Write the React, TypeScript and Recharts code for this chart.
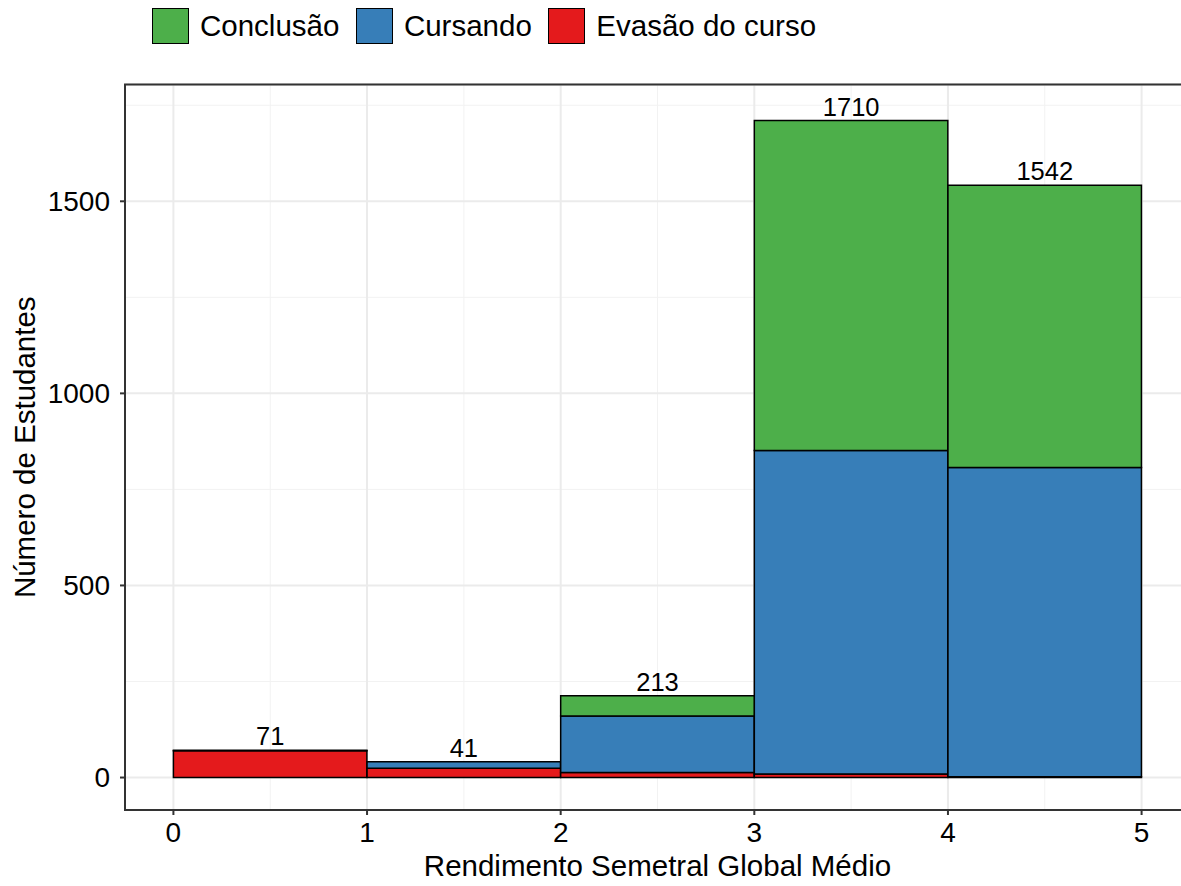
import {
  ComposedChart,
  Bar,
  Line,
  XAxis,
  YAxis,
  CartesianGrid,
  LabelList,
  ReferenceArea,
} from "recharts";

// classes do histograma (centro de cada faixa de rendimento)
const binCenters = [0.5, 1.5, 2.5, 3.5, 4.5];
const evasao = [70, 24, 13, 9, 2];
const cursando = [1, 17, 147, 842, 805];
const conclusao = [0, 0, 53, 859, 735];

const xTicks = [0, 1, 2, 3, 4, 5];
const yTicks = [0, 500, 1000, 1500];
const xMinor = [0.5, 1.5, 2.5, 3.5, 4.5];
const yMinor = [250, 750, 1250, 1750];

const legendItems = [
  { label: "Conclusão", color: "#4DAF4A" },
  { label: "Cursando", color: "#377EB8" },
  { label: "Evasão do curso", color: "#E41A1C" },
];

const data = binCenters.map((x, i) => ({
  x,
  evasao: evasao[i],
  cursando: cursando[i],
  conclusao: conclusao[i],
  total: evasao[i] + cursando[i] + conclusao[i],
}));

const FONT = "'Liberation Sans', Arial, Helvetica, sans-serif";

export default function App() {
  return (
    <div
      style={{
        position: "absolute",
        left: 0,
        top: 0,
        width: 1181,
        height: 886,
        overflow: "hidden",
        background: "#fff",
        fontFamily: FONT,
      }}
    >
      {/* legenda no topo, igual ao ggplot */}
      <div
        style={{
          position: "absolute",
          left: 152,
          top: 8,
          display: "flex",
          alignItems: "center",
          fontSize: 29.5,
          color: "#000",
        }}
      >
        {legendItems.map((it) => (
          <div key={it.label} style={{ display: "flex", alignItems: "center", marginRight: 16.5 }}>
            <div
              style={{
                width: 37,
                height: 36,
                background: it.color,
                border: "1.5px solid #000",
                boxSizing: "border-box",
                marginRight: 11,
              }}
            />
            <span>{it.label}</span>
          </div>
        ))}
      </div>

      <ComposedChart
        width={1190}
        height={886}
        data={data}
        margin={{ top: 84.5, right: 0, bottom: 0, left: 0 }}
        style={{ position: "absolute", left: 0, top: 0 }}
      >
        <CartesianGrid
          stroke="#F2F2F2"
          strokeWidth={1}
          verticalValues={xMinor}
          horizontalValues={yMinor}
        />
        <CartesianGrid stroke="#EBEBEB" strokeWidth={2} />
        <XAxis
          dataKey="x"
          type="number"
          domain={[-0.25, 5.25]}
          ticks={xTicks}
          allowDataOverflow
          height={76}
          tickSize={5}
          tickMargin={7}
          tickLine={{ stroke: "#333", strokeWidth: 2 }}
          axisLine={false}
          tick={{ fill: "#000", fontSize: 28, fontFamily: FONT }}
          label={{
            value: "Rendimento Semetral Global Médio",
            position: "insideBottom",
            offset: 10,
            fill: "#000",
            fontSize: 29.5,
            fontFamily: FONT,
          }}
        />
        <YAxis
          type="number"
          domain={[-84.5, 1804]}
          ticks={yTicks}
          allowDataOverflow
          width={125}
          tickSize={5}
          tickMargin={10}
          tickLine={{ stroke: "#333", strokeWidth: 2 }}
          axisLine={false}
          tick={{ fill: "#000", fontSize: 28, fontFamily: FONT }}
          label={{
            value: "Número de Estudantes",
            angle: -90,
            position: "insideLeft",
            offset: 25,
            style: { textAnchor: "middle" },
            fill: "#000",
            fontSize: 29.5,
            fontFamily: FONT,
          }}
        />
        <Bar dataKey="evasao" stackId="a" fill="#E41A1C" stroke="#000" strokeWidth={1.5} barSize={193.5} isAnimationActive={false} />
        <Bar dataKey="cursando" stackId="a" fill="#377EB8" stroke="#000" strokeWidth={1.5} barSize={193.5} isAnimationActive={false} />
        <Bar dataKey="conclusao" stackId="a" fill="#4DAF4A" stroke="#000" strokeWidth={1.5} barSize={193.5} isAnimationActive={false} />
        {/* totais acima de cada barra */}
        <Line dataKey="total" stroke="none" dot={false} activeDot={false} isAnimationActive={false}>
          <LabelList dataKey="total" position="top" offset={5} fill="#000" fontSize={25.5} fontFamily={FONT} />
        </Line>
        {/* borda do painel (theme_bw) */}
        <ReferenceArea
          x1={-0.25}
          x2={5.25}
          y1={-84.5}
          y2={1804}
          fill="none"
          stroke="#333"
          strokeWidth={2}
          ifOverflow="visible"
        />
      </ComposedChart>
    </div>
  );
}
